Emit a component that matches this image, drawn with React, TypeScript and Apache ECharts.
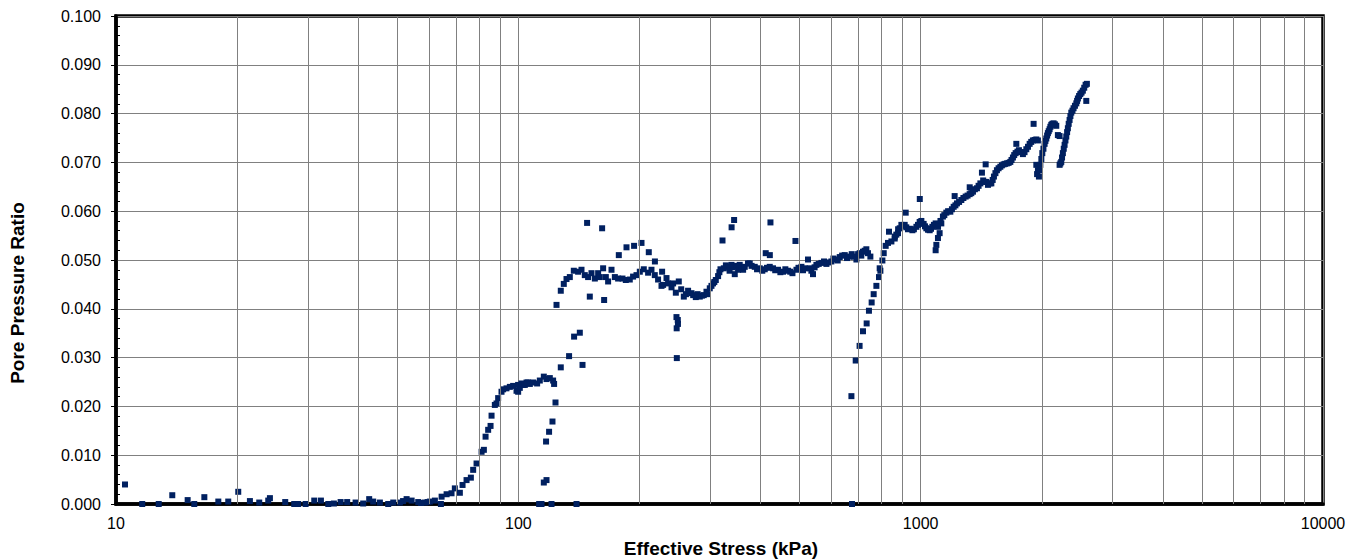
import React, { useEffect, useRef } from "react";
import * as echarts from "echarts";

// [effective stress (kPa), pore pressure ratio]
const baselineData: number[][] = [
  [10.53, 0.004], [11.62, 0], [12.77, 0], [13.8, 0.0018], [15.07, 0.0008], [15.65, 0],
  [16.58, 0.0014], [17.96, 0.0005], [19.01, 0.0005], [20.13, 0.0025], [21.52, 0.0006],
  [22.7, 0.0003], [23.9, 0.0007], [24.13, 0.0012], [26.34, 0.0004], [27.73, 0], [28.37, 0],
  [29.6, 0], [31.1, 0.0007], [32.31, 0.0007], [33.7, 0], [34.8, 0.0001], [36.16, 0.0004],
  [37.55, 0.0004], [39.4, 0.0003], [41.15, 0.0001], [42.59, 0.001], [43.58, 0.0005],
  [45.28, 0.0003], [47.49, 0], [48.87, 0.0003], [50.77, 0.0003], [51.7, 0.0006],
  [52.76, 0.001], [54.3, 0.0007], [56.39, 0.0004], [57.3, 0.0002], [58.59, 0.0003],
  [59.5, 0.0004], [60.28, 0.0005], [62.03, 0.0007],
];

const firstRiseData: number[][] = [
  [64.2, 0], [64.46, 0.0015], [66.33, 0.002], [68.23, 0.0022], [69.53, 0.0032], [71.56, 0.0023],
  [72.67, 0.0039], [74.35, 0.0049], [76.21, 0.0054], [77.22, 0.007], [78.73, 0.0083],
  [81.03, 0.0107], [82.1, 0.0111], [82.9, 0.0138], [84.14, 0.0152], [85.3, 0.016],
  [85.79, 0.0181], [87.42, 0.0203], [88.27, 0.0206], [89.09, 0.0217], [90.82, 0.023],
  [91.66, 0.0235], [93.45, 0.0237], [95.26, 0.024], [97.07, 0.0242], [98.97, 0.0232],
  [99.88, 0.0244], [99.9, 0.023], [100.85, 0.0238], [101.85, 0.0247], [102.78, 0.0244],
  [103.78, 0.0244], [104.81, 0.0249], [105.76, 0.0249], [106.81, 0.0246], [108.85, 0.0249],
  [111.36, 0.0247], [113.08, 0.0253], [115.7, 0.0261], [117.5, 0.0256], [119.74, 0.0258],
  [122.02, 0.0253], [122.72, 0.0246],
];

const secondRiseData: number[][] = [
  [112.65, 0], [114.19, 0], [120.91, 0], [139.52, 0], [115.7, 0.0044], [117.5, 0.0049],
  [117.2, 0.0128], [119.24, 0.0148], [121.58, 0.0169], [123.7, 0.0208], [124.42, 0.0408],
  [127.5, 0.028], [133.7, 0.0303], [137.6, 0.0343], [142.17, 0.0351], [144.38, 0.0285],
];

const firstPlateauData: number[][] = [
  [127.5, 0.0437], [129.72, 0.0451], [131.74, 0.0461], [134.27, 0.0465], [137.36, 0.0478],
  [140.8, 0.0476], [143.55, 0.048], [146.28, 0.0469], [148.22, 0.0576], [149.08, 0.0465],
  [150.53, 0.0425], [151.99, 0.0473], [154.94, 0.0462], [157.89, 0.0473], [159.42, 0.0465],
  [161.53, 0.0565], [162.46, 0.0483], [163.4, 0.0418], [164.99, 0.0465], [167.17, 0.0456],
  [170.44, 0.048], [173.74, 0.0465], [177.01, 0.0462], [177.72, 0.051], [181.52, 0.0462],
  [184.98, 0.0459], [185.71, 0.0526], [189.23, 0.046], [192.84, 0.0466], [193.95, 0.0529],
  [196.66, 0.0469], [200.4, 0.0476], [202.36, 0.0535], [205.03, 0.0481], [210.15, 0.0474],
  [210.98, 0.0516], [214.25, 0.048], [218.34, 0.0469], [218.5, 0.0497], [222.5, 0.046],
  [226.9, 0.0447], [227.7, 0.0476], [229.0, 0.0449], [233.5, 0.0463], [235.6, 0.0452],
  [240.3, 0.0444], [242.5, 0.0452], [246.3, 0.0433], [247.2, 0.0383], [247.5, 0.036],
  [247.7, 0.0299], [249.1, 0.0377], [249.3, 0.0369], [250.5, 0.0456],
];

const secondPlateauData: number[][] = [
  [254, 0.044], [257.8, 0.0425], [261, 0.043], [264.2, 0.0437], [269.4, 0.0432], [272, 0.0428],
  [276.1, 0.0424], [279, 0.043], [282.5, 0.0425], [286, 0.0427], [289, 0.0428], [293.5, 0.0435],
  [296, 0.043], [299.1, 0.0442], [302, 0.0447], [304.8, 0.0452], [307, 0.0455], [309.6, 0.0459],
  [313.7, 0.0467], [316, 0.0475], [318, 0.0481], [321.7, 0.054], [324.1, 0.0483], [328, 0.0489],
  [332.2, 0.0486], [335, 0.0478], [338.7, 0.049], [338.9, 0.0567], [341, 0.0485], [343.8, 0.0582],
  [345.1, 0.0471], [348, 0.0488], [351.7, 0.048], [355, 0.049], [358.5, 0.0483], [362, 0.048],
  [365.4, 0.0486], [372.3, 0.0493], [376, 0.0493], [380, 0.0488], [386.9, 0.0486], [392, 0.0481],
  [398.1, 0.0483], [404, 0.0478], [409.7, 0.0481], [412, 0.0514], [415, 0.0484], [421.6, 0.0486],
  [421.8, 0.051], [423.3, 0.0577], [429.6, 0.0483], [435, 0.0479], [442.1, 0.048], [448, 0.0475],
  [455, 0.0476], [461, 0.0481], [468.2, 0.0478], [474, 0.0476], [480.1, 0.0473], [488.4, 0.0539],
  [491.2, 0.048], [497, 0.0484], [505.4, 0.0486], [510, 0.0479], [515, 0.0483], [524.8, 0.0501],
  [529.9, 0.0483], [535, 0.0478], [540, 0.0471], [545, 0.0485], [550.6, 0.049], [558, 0.0492],
  [566.6, 0.0494], [575, 0.0497], [583.1, 0.0492], [592, 0.0495], [600, 0.0497], [607, 0.0503],
  [615, 0.0501], [622, 0.0499], [629.3, 0.0506], [638, 0.0509], [647.5, 0.051], [656, 0.0504],
  [666.3, 0.0507], [674, 0.0512], [681.7, 0.0507], [692.3, 0.0501], [699, 0.0512], [705.5, 0.0514],
  [712, 0.0509], [718.9, 0.0517], [726, 0.0519], [732.8, 0.0522], [739.6, 0.0514], [749.9, 0.0507],
];

const thirdRiseData: number[][] = [
  [675.1, 0], [672.8, 0.0221], [689.5, 0.0294], [705, 0.0324], [718.9, 0.0354], [734.1, 0.037],
  [743.8, 0.0396], [755.4, 0.0413], [764.2, 0.043], [776.1, 0.0447], [787.7, 0.0465],
  [790.9, 0.0483], [794.1, 0.0478], [803.3, 0.0499], [809.4, 0.0514], [818.6, 0.0529],
  [829.4, 0.0535], [834.2, 0.0558], [845.8, 0.0538], [861.9, 0.0544], [862.5, 0.0548],
  [870, 0.0552], [878.3, 0.0555], [878.9, 0.0563], [886.9, 0.0565], [895.5, 0.0572],
  [903, 0.057], [912.6, 0.0572], [917.9, 0.0597], [921, 0.0567], [930.1, 0.0563], [940, 0.0564],
  [953.8, 0.0561], [962, 0.0563], [975.8, 0.0568], [985, 0.0572], [994.2, 0.0578],
  [995, 0.0625], [1004, 0.058], [1017.2, 0.0574], [1025, 0.0569], [1033, 0.0565], [1043, 0.0562],
  [1052.9, 0.0561], [1061, 0.0564], [1069.1, 0.0568], [1079, 0.0572], [1089.5, 0.0575],
  [1098, 0.0573],
];

const upperRiseData: number[][] = [
  [1089.5, 0.052], [1093.9, 0.0531], [1104, 0.0545], [1104.5, 0.0568], [1114.6, 0.0555],
  [1120, 0.058], [1125.4, 0.0575], [1135.8, 0.0589], [1145, 0.0592], [1158.1, 0.0597],
  [1170, 0.06], [1185, 0.0599], [1196, 0.0604], [1207.8, 0.0609], [1214.7, 0.0631],
  [1220, 0.0612], [1230.8, 0.0616], [1246, 0.0619], [1262.1, 0.0623], [1277, 0.0627],
  [1293.6, 0.063], [1308, 0.0632], [1323.5, 0.0635], [1324, 0.0649], [1336, 0.0637],
  [1348.9, 0.064], [1364, 0.0645], [1380, 0.0647], [1393, 0.0652], [1407.3, 0.0657],
  [1420, 0.0679], [1430, 0.0663], [1442.2, 0.066], [1450.6, 0.0696], [1456, 0.066],
  [1469.7, 0.0654], [1484, 0.0657], [1498.5, 0.0657], [1510, 0.0664], [1521, 0.0671],
  [1534, 0.0678], [1547.2, 0.0684], [1562, 0.0688], [1577.7, 0.0691], [1592, 0.0694],
  [1607.7, 0.0696], [1622, 0.0697], [1638.4, 0.0698], [1654, 0.0699], [1670.4, 0.0701],
  [1682, 0.0705], [1695.6, 0.071], [1708, 0.0715], [1722, 0.0719], [1728.8, 0.0738],
  [1740, 0.0722], [1754.8, 0.0725], [1775, 0.0721], [1795.3, 0.0717], [1812, 0.0721],
  [1830.8, 0.0727], [1848, 0.0732], [1865.7, 0.0738], [1883, 0.0742], [1901.1, 0.0745],
  [1908.6, 0.0779], [1920, 0.0746], [1938.3, 0.0747], [1956.3, 0.0745], [1938.5, 0.0695],
  [1947, 0.0676], [1956.5, 0.0684], [1967.6, 0.0671], [1975, 0.0684], [1983.4, 0.0695],
  [1995, 0.0707], [2006, 0.0719], [2019, 0.0728], [2032.4, 0.0738], [2042, 0.0744],
  [2052.4, 0.0749], [2062, 0.0755], [2071, 0.076], [2081, 0.0764], [2091.6, 0.0768],
  [2101, 0.0773], [2112, 0.0777], [2125, 0.0779], [2140, 0.078], [2156, 0.0778], [2173, 0.0775],
  [2193, 0.0756], [2214.5, 0.0754], [2214.8, 0.0695], [2225, 0.0698], [2236, 0.0701],
  [2246, 0.071], [2256.7, 0.0719], [2268, 0.0728], [2279, 0.0736], [2290, 0.0745], [2301, 0.0753],
  [2312, 0.0762], [2322, 0.077], [2333, 0.0779], [2345, 0.0787], [2356, 0.0795], [2368, 0.0802],
  [2384, 0.0806], [2399, 0.0811], [2418, 0.0816], [2437, 0.0821], [2448, 0.0826], [2459, 0.0831],
  [2476, 0.0836], [2493, 0.084], [2511, 0.0843], [2530, 0.0847], [2550, 0.0853], [2570, 0.0859],
  [2580, 0.0826], [2589, 0.0861],
];

const minorStressLines: number[] = [
  20, 30, 40, 50, 60, 70, 80, 90,
  200, 300, 400, 500, 600, 700, 800, 900,
  2000, 3000, 4000, 5000, 6000, 7000, 8000, 9000,
];

const X_TITLE = "Effective Stress (kPa)";
const Y_TITLE = "Pore Pressure Ratio";
const FONT = 'Arial, "Liberation Sans", sans-serif';
const GRID_COLOR = "#808080";
const POINT_COLOR = "#002060";

export default function App() {
  const ref = useRef<HTMLDivElement>(null);

  useEffect(() => {
    if (!ref.current) return;
    const chart = echarts.init(ref.current, null, { renderer: "svg" });
    const allData = [
      ...baselineData,
      ...firstRiseData,
      ...secondRiseData,
      ...firstPlateauData,
      ...secondPlateauData,
      ...thirdRiseData,
      ...upperRiseData,
    ];
    chart.setOption({
      animation: false,
      backgroundColor: "#ffffff",
      grid: {
        left: 116,
        right: 33,
        top: 16,
        bottom: 56,
        show: true,
        borderColor: "#000",
        borderWidth: 3.5,
        backgroundColor: "#fff",
      },
      xAxis: {
        type: "log",
        logBase: 10,
        min: 10,
        max: 10000,
        axisLine: { show: true, lineStyle: { color: "#000", width: 3.5 } },
        axisTick: { show: false },
        axisLabel: {
          color: "#000",
          fontSize: 16,
          fontFamily: FONT,
          margin: 11,
          formatter: (v: number) => String(Math.round(v)),
        },
        splitLine: { show: true, lineStyle: { color: GRID_COLOR, width: 1 } },
      },
      yAxis: [
        {
          type: "value",
          min: 0,
          max: 0.1,
          interval: 0.01,
          axisLine: { show: true, lineStyle: { color: "#000", width: 3.5 } },
          axisTick: { show: true, length: 5, lineStyle: { color: "#000", width: 1 } },
          axisLabel: {
            color: "#000",
            fontSize: 16,
            fontFamily: FONT,
            margin: 15,
            formatter: (v: number) => v.toFixed(3),
          },
          splitLine: { show: true, lineStyle: { color: GRID_COLOR, width: 1 } },
        },
        {
          type: "value",
          min: 0,
          max: 0.1,
          interval: 0.01,
          position: "left",
          axisLine: { show: false },
          axisTick: { show: false, inside: true },
          axisLabel: { show: false },
          splitLine: { show: false },
          minorTick: { show: true, splitNumber: 5, length: 4, lineStyle: { color: "#000", width: 1 } },
        },
      ],
      series: [
        {
          type: "scatter",
          z: 1,
          data: [],
          silent: true,
          markLine: {
            silent: true,
            symbol: ["none", "none"],
            label: { show: false },
            lineStyle: { color: GRID_COLOR, width: 1, type: "solid" },
            emphasis: { disabled: true },
            data: minorStressLines.map((v) => ({ xAxis: v })),
          },
        },
        {
          type: "scatter",
          z: 3,
          symbol: "rect",
          symbolSize: 6,
          itemStyle: { color: POINT_COLOR, opacity: 1 },
          data: allData,
        },
      ],
      graphic: [
        {
          type: "text",
          x: 17,
          y: 293,
          rotation: Math.PI / 2,
          style: {
            text: Y_TITLE,
            font: `bold 19px ${FONT}`,
            fill: "#000",
            textAlign: "center",
            textVerticalAlign: "middle",
          },
        },
        {
          type: "text",
          x: 721,
          y: 548,
          style: {
            text: X_TITLE,
            font: `bold 19px ${FONT}`,
            fill: "#000",
            textAlign: "center",
            textVerticalAlign: "middle",
          },
        },
      ],
    });
    return () => chart.dispose();
  }, []);

  return (
    <div
      ref={ref}
      style={{ position: "fixed", left: 0, top: 0, width: 1356, height: 560, background: "#fff" }}
    />
  );
}
